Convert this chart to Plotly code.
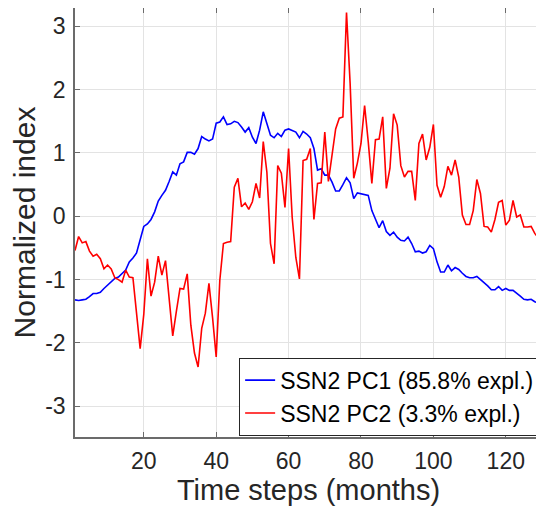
import plotly.graph_objects as go

months = list(range(1, 131))

pc1 = [
    -1.32, -1.33, -1.32, -1.31, -1.27, -1.22, -1.22, -1.20, -1.14, -1.09,
    -1.04, -0.98, -0.96, -0.91, -0.85, -0.72, -0.66, -0.58, -0.35, -0.16,
    -0.12, -0.05, 0.07, 0.24, 0.33, 0.41, 0.55, 0.70, 0.65, 0.83,
    0.86, 1.01, 1.01, 0.98, 1.07, 1.26, 1.22, 1.19, 1.22, 1.47,
    1.49, 1.57, 1.45, 1.46, 1.50, 1.48, 1.41, 1.33, 1.40, 1.25,
    1.15, 1.36, 1.65, 1.46, 1.28, 1.24, 1.31, 1.26, 1.36, 1.38,
    1.36, 1.33, 1.24, 1.34, 1.30, 1.24, 1.07, 0.73, 0.75, 0.65,
    0.65, 0.54, 0.40, 0.40, 0.50, 0.61, 0.53, 0.28, 0.37, 0.36,
    0.35, 0.33, 0.09, -0.05, -0.18, -0.07, -0.24, -0.30, -0.25, -0.33,
    -0.38, -0.39, -0.33, -0.43, -0.56, -0.55, -0.58, -0.56, -0.46, -0.51,
    -0.72, -0.88, -0.88, -0.77, -0.86, -0.81, -0.84, -0.90, -0.95, -0.97,
    -0.97, -0.95, -1.00, -1.04, -1.10, -1.16, -1.16, -1.11, -1.17, -1.14,
    -1.17, -1.17, -1.21, -1.26, -1.31, -1.32, -1.31, -1.35, -1.37, -1.32,
]

pc2 = [
    -0.54, -0.32, -0.42, -0.40, -0.55, -0.63, -0.60, -0.67, -0.83, -0.77,
    -0.83, -0.97, -1.00, -1.04, -0.85, -0.96, -0.97, -1.53, -2.09, -1.55,
    -0.67, -1.26, -1.04, -0.63, -0.93, -0.70, -1.30, -1.89, -1.50, -1.14,
    -1.15, -0.91, -1.72, -2.16, -2.38, -1.77, -1.53, -1.06, -1.60, -2.22,
    -1.01, -0.43, -0.41, -0.40, 0.46, 0.60, 0.15, 0.21, 0.11, 0.23,
    0.52, 0.29, 1.18, 0.70, -0.43, -0.75, 0.80, 0.68, 0.14, 1.07,
    -0.02, -0.65, -0.99, 0.88, 0.90, 1.07, -0.05, 0.52, 0.53, 1.33,
    0.55, 0.99, 1.38, 1.55, 1.57, 3.22, 2.10, 0.60, 0.84, 1.15,
    1.75, 1.18, 0.52, 1.21, 1.22, 1.57, 0.44, 0.76, 1.62, 1.44,
    0.80, 0.62, 0.71, 0.71, 0.25, 1.15, 1.30, 0.89, 1.09, 1.45,
    0.49, 0.30, 0.47, 0.79, 0.65, 0.89, 0.62, 0.02, -0.13, -0.13,
    0.09, 0.58, 0.36, -0.16, -0.17, -0.25, -0.05, 0.22, 0.25, -0.14,
    -0.06, 0.25, -0.01, 0.02, -0.17, -0.17, -0.16, -0.27, -0.34, -0.30,
]

series_names = ["SSN2 PC1 (85.8% expl.)", "SSN2 PC2 (3.3% expl.)"]
x_tick_vals = [20, 40, 60, 80, 100, 120]
y_tick_vals = [-3, -2, -1, 0, 1, 2, 3]
y_tick_labels = ["-3", "-2", "-1", "0", "1", "2", "3"]
x_title = "Time steps (months)"
y_title = "Normalized index"

FONT = "Liberation Sans, Arial, Helvetica, sans-serif"
AXIS_COLOR = "#6b6b6b"
TEXT_COLOR = "#262626"

fig = go.Figure()
fig.add_trace(go.Scatter(x=months, y=pc1, mode="lines", name=series_names[0],
                         line=dict(color="#0000ff", width=1.6)))
fig.add_trace(go.Scatter(x=months, y=pc2, mode="lines", name=series_names[1],
                         line=dict(color="#ff0000", width=1.6)))

axis_common = dict(
    showline=True, linecolor=AXIS_COLOR, linewidth=1.5, mirror="ticks",
    ticks="inside", ticklen=5, tickcolor=AXIS_COLOR, tickwidth=1,
    showgrid=True, gridcolor="#e3e3e3", gridwidth=1, zeroline=False,
    tickfont=dict(family=FONT, size=23, color=TEXT_COLOR),
    automargin=False,
)

fig.update_xaxes(
    range=[1, 130], tickvals=x_tick_vals,
    title=dict(text=x_title, font=dict(family=FONT, size=29, color=TEXT_COLOR), standoff=4),
    ticklabelstandoff=3,
    **axis_common,
)
fig.update_yaxes(
    range=[-3.486, 3.29], tickvals=y_tick_vals, ticktext=y_tick_labels,
    title=dict(text=y_title, font=dict(family=FONT, size=30, color=TEXT_COLOR), standoff=8),
    ticklabelstandoff=3,
    **axis_common,
)

# the page body adds an 8px offset, so the figure is sized to fill the rest of the window
fig.update_layout(
    width=536, height=508,
    margin=dict(l=67, r=1.5, t=0, b=79),
    paper_bgcolor="white", plot_bgcolor="white",
    font=dict(family=FONT, color=TEXT_COLOR),
    showlegend=True,
    legend=dict(
        x=0.996, xanchor="right", y=0.003, yanchor="bottom",
        bgcolor="white", bordercolor="#262626", borderwidth=1,
        font=dict(family=FONT, size=23, color="#000000"),
        tracegroupgap=0, itemwidth=30,
    ),
)

fig.write_html("out.html")
